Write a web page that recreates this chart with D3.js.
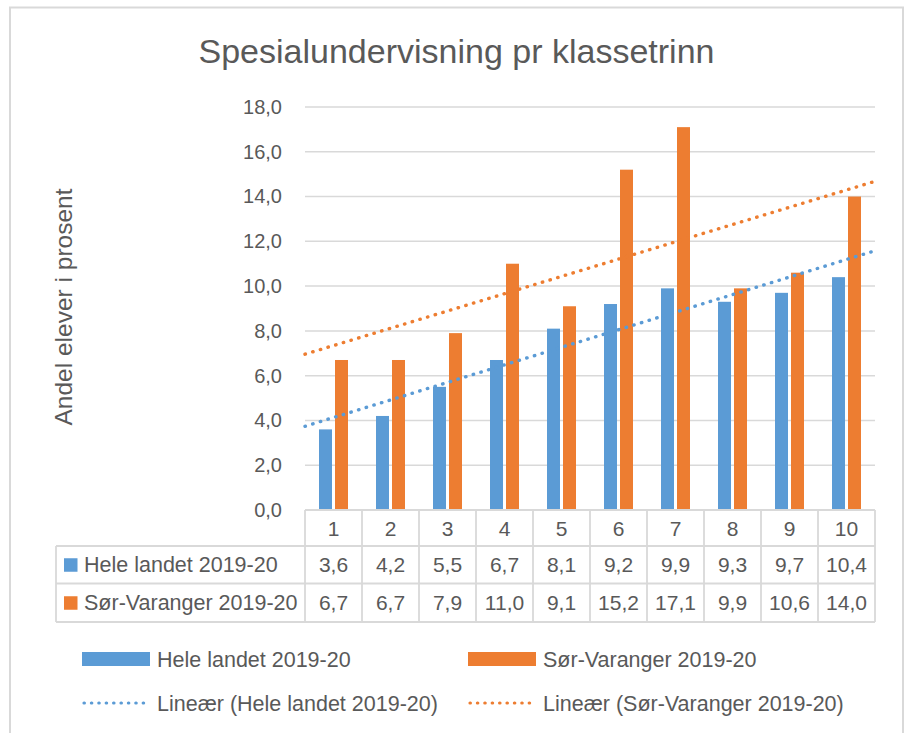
<!DOCTYPE html>
<html>
<head>
<meta charset="utf-8">
<script src="https://cdn.jsdelivr.net/npm/d3@7"></script>
<style>
  body { margin: 0; background: #fff; }
  text { font-family: "Liberation Sans", Arial, sans-serif; fill: #595959; }
</style>
</head>
<body>
<svg id="svg" width="910" height="733"></svg>
<script>
// chart values
let categories = ['1', '2', '3', '4', '5', '6', '7', '8', '9', '10'];
let seriesNames = ['Hele landet 2019-20', 'Sør-Varanger 2019-20'];
let heleLandet = [3.6, 4.2, 5.5, 6.7, 8.1, 9.2, 9.9, 9.3, 9.7, 10.4];
let sorVaranger = [6.7, 6.7, 7.9, 11.0, 9.1, 15.2, 17.1, 9.9, 10.6, 14.0];
let yTicks = [0, 2, 4, 6, 8, 10, 12, 14, 16, 18];
let colorSet = ['#5B9BD5', '#ED7D31'];

let titleText = 'Spesialundervisning pr klassetrinn';
let yTitle = 'Andel elever i prosent';

function render() {
  let svg = d3.select('#svg');
  let grid = '#D9D9D9';
  let fmt = v => d3.format('.1f')(v).replace('.', ',');

  let plot = {left: 305, right: 875, top: 107, bottom: 510};

  // outer frame
  svg.append('rect')
    .attr('x', 10).attr('y', 7.5)
    .attr('width', 893).attr('height', 740)
    .attr('fill', '#fff')
    .attr('stroke', grid)
    .attr('stroke-width', 2);

  svg.append('text')
    .attr('x', 456.5).attr('y', 63)
    .attr('text-anchor', 'middle')
    .attr('font-size', 34)
    .text(titleText);

  let xScale = d3.scaleBand()
    .domain(categories)
    .range([plot.left, plot.right])
    .padding(0);
  let yScale = d3.scaleLinear()
    .domain([0, 18])
    .range([plot.bottom, plot.top]);

  // gridlines
  svg.append('g')
    .selectAll('line')
    .data(yTicks)
    .enter()
    .append('line')
    .attr('x1', plot.left).attr('x2', plot.right)
    .attr('y1', d => yScale(d)).attr('y2', d => yScale(d))
    .attr('stroke', grid)
    .attr('stroke-width', 1.5);

  // y axis labels
  let yAxis = d3.axisLeft(yScale)
    .tickValues(yTicks)
    .tickFormat(fmt)
    .tickSize(0)
    .tickPadding(23);
  let gY = svg.append('g')
    .attr('transform', `translate(${plot.left},0)`)
    .call(yAxis);
  gY.select('.domain').remove();
  gY.selectAll('text')
    .attr('font-size', 20)
    .attr('fill', '#595959')
    .style('font-family', '"Liberation Sans", Arial, sans-serif');

  svg.append('text')
    .attr('transform', 'translate(72,307) rotate(-90)')
    .attr('text-anchor', 'middle')
    .attr('font-size', 24.5)
    .text(yTitle);

  // bars
  let barW = 13, gap = 3;
  let groupW = barW * 2 + gap;
  let offset = (xScale.bandwidth() - groupW) / 2;
  [heleLandet, sorVaranger].forEach((values, s) => {
    svg.append('g')
      .selectAll('rect')
      .data(values)
      .enter()
      .append('rect')
      .attr('x', (d, i) => xScale(categories[i]) + offset + s * (barW + gap))
      .attr('y', d => yScale(d))
      .attr('width', barW)
      .attr('height', d => yScale(0) - yScale(d))
      .attr('fill', colorSet[s]);
  });

  // linear trendlines (least squares, as Excel)
  let xs = categories.map((c, i) => i + 1);
  let xPos = d3.scaleLinear()
    .domain([0.5, categories.length + 0.5])
    .range([plot.left, plot.right]);
  [heleLandet, sorVaranger].forEach((values, s) => {
    let mx = d3.mean(xs), my = d3.mean(values);
    let slope = d3.sum(xs, (x, i) => (x - mx) * (values[i] - my)) / d3.sum(xs, x => (x - mx) * (x - mx));
    let icpt = my - slope * mx;
    let ends = [0.5, categories.length + 0.5];
    svg.append('path')
      .attr('d', d3.line()(ends.map(x => [xPos(x), yScale(icpt + slope * x)])))
      .attr('fill', 'none')
      .attr('stroke', colorSet[s])
      .attr('stroke-width', 3.4)
      .attr('stroke-linecap', 'round')
      .attr('stroke-dasharray', '0.4,7.6');
  });

  // data table
  let rowY = [510, 546, 583.5, 622];
  let tableLeft = 56;
  let gT = svg.append('g')
    .attr('stroke', grid)
    .attr('stroke-width', 1.8);
  gT.append('line')
    .attr('x1', plot.left).attr('x2', plot.right)
    .attr('y1', rowY[0]).attr('y2', rowY[0]);
  rowY.slice(1).forEach(y => {
    gT.append('line')
      .attr('x1', tableLeft).attr('x2', plot.right)
      .attr('y1', y).attr('y2', y);
  });
  gT.append('line')
    .attr('x1', tableLeft).attr('x2', tableLeft)
    .attr('y1', rowY[1]).attr('y2', rowY[3]);
  categories.concat(['end']).forEach((c, i) => {
    let x = i < categories.length ? xScale(c) : plot.right;
    gT.append('line')
      .attr('x1', x).attr('x2', x)
      .attr('y1', rowY[0]).attr('y2', rowY[3]);
  });

  let cellText = svg.append('g')
    .attr('font-size', 21)
    .attr('text-anchor', 'middle');
  categories.forEach(c => {
    cellText.append('text')
      .attr('x', xScale(c) + xScale.bandwidth() / 2)
      .attr('y', (rowY[0] + rowY[1]) / 2)
      .attr('dy', '0.36em')
      .text(c);
  });
  [heleLandet, sorVaranger].forEach((values, s) => {
    let cy = (rowY[s + 1] + rowY[s + 2]) / 2;
    values.forEach((v, i) => {
      cellText.append('text')
        .attr('x', xScale(categories[i]) + xScale.bandwidth() / 2)
        .attr('y', cy)
        .attr('dy', '0.36em')
        .text(fmt(v));
    });
    svg.append('rect')
      .attr('x', 64).attr('y', cy - 6.5)
      .attr('width', 13.5).attr('height', 13.5)
      .attr('fill', colorSet[s]);
    svg.append('text')
      .attr('x', 84).attr('y', cy)
      .attr('dy', '0.36em')
      .attr('font-size', 21.5)
      .text(seriesNames[s]);
  });

  // legend
  let legendX = [82, 468];
  let legendY = [659, 703];
  seriesNames.forEach((name, s) => {
    svg.append('rect')
      .attr('x', legendX[s]).attr('y', legendY[0] - 7)
      .attr('width', 68).attr('height', 14)
      .attr('fill', colorSet[s]);
    svg.append('text')
      .attr('x', legendX[s] + 75).attr('y', legendY[0])
      .attr('dy', '0.36em')
      .attr('font-size', 21.5)
      .text(name);
    svg.append('line')
      .attr('x1', legendX[s] + 2).attr('x2', legendX[s] + 68)
      .attr('y1', legendY[1]).attr('y2', legendY[1])
      .attr('stroke', colorSet[s])
      .attr('stroke-width', 3.2)
      .attr('stroke-linecap', 'round')
      .attr('stroke-dasharray', '0.4,7.0');
    svg.append('text')
      .attr('x', legendX[s] + 75).attr('y', legendY[1])
      .attr('dy', '0.36em')
      .attr('font-size', 21.5)
      .text('Lineær (' + name + ')');
  });
}

render();
</script>
</body>
</html>
